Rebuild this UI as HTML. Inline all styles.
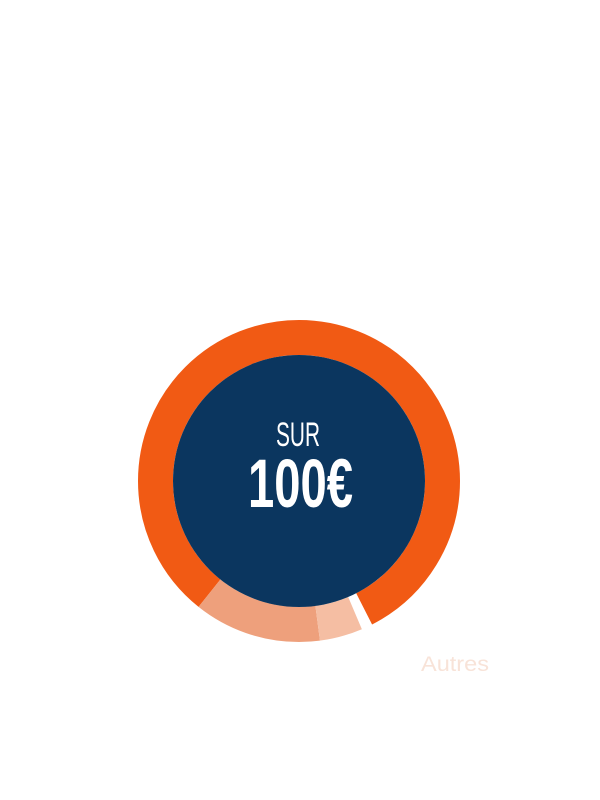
<!DOCTYPE html>
<html><head><style>html,body{margin:0;padding:0;background:#fff;width:600px;height:800px;overflow:hidden}</style></head>
<body>
<svg width="600" height="800" viewBox="0 0 600 800" xmlns="http://www.w3.org/2000/svg">
<g transform="translate(299,481) rotate(-90)" fill="none" stroke-width="35">
<circle r="143.5" pathLength="360" stroke="#f15a14" stroke-dasharray="141.5 360" stroke-dashoffset="-218.6"/>
<circle r="143.5" pathLength="360" stroke="#f15a14" stroke-dasharray="153 360" stroke-dashoffset="0"/>
<circle r="143.5" pathLength="360" stroke="#eea07c" stroke-dasharray="46.1 360" stroke-dashoffset="-172.5"/>
<circle r="143.5" pathLength="360" stroke="#f5bea3" stroke-dasharray="15.5 360" stroke-dashoffset="-157"/>
</g>
<circle cx="299" cy="481" r="126" fill="#0b365f"/>
<text x="276" y="446" font-family="Liberation Sans Narrow, Liberation Sans, sans-serif" font-size="34" fill="#fff" textLength="44" lengthAdjust="spacingAndGlyphs">SUR</text>
<text x="248" y="507" font-family="Liberation Sans Narrow, Liberation Sans, sans-serif" font-size="69" fill="#fff" font-weight="bold" textLength="105" lengthAdjust="spacingAndGlyphs">100€</text>
<text x="421" y="671" font-family="Liberation Sans, sans-serif" font-size="21" fill="#f8e3d8" textLength="68" lengthAdjust="spacingAndGlyphs">Autres</text>
</svg>
</body></html>
